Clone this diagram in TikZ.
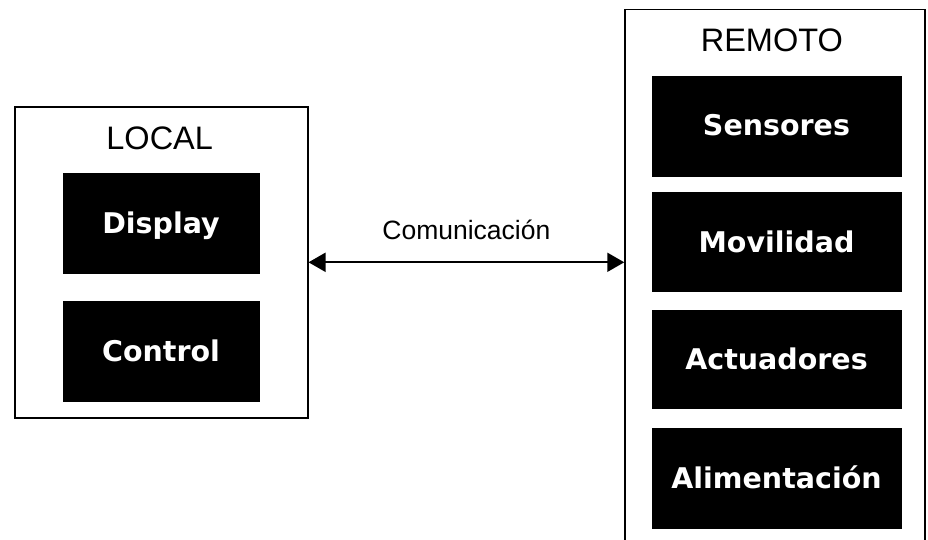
\documentclass[tikz,border=0pt]{standalone}
\usepackage{fontspec}
\setmainfont{Liberation Sans}
\newfontfamily\blockfont{DejaVu Sans}
\usetikzlibrary{arrows.meta}
\begin{document}
\begin{tikzpicture}[x=1pt,y=-1pt,
  group/.style={draw=black,line width=1.5pt,fill=white,rectangle,inner sep=0pt},
  unit/.style={fill=black,draw=black,rectangle,inner sep=0pt,
    minimum width=196pt,minimum height=100pt,text=white,
    font=\blockfont\bfseries\fontsize{28.5}{30}\selectfont,
    text height=20pt,text depth=0pt},
  title/.style={font=\fontsize{32.5}{34}\selectfont,anchor=base,inner sep=0pt},
  link/.style={line width=2pt,{Triangle[length=17pt,width=19pt]}-{Triangle[length=17pt,width=19pt]}}
]
\useasboundingbox (0,0) rectangle (928,540);
\fill[white] (0,0) rectangle (928,540);

% local side
\node[group,minimum width=293pt,minimum height=311pt] (local) at (161.3,262.3) {};
\node[title] (localtitle) at (159.7,150) {LOCAL};
\node[unit] (display) at (161,223.5) {Display};
\node[unit] (control) at (161,351) {Control};

% remote side
\node[group,minimum width=300pt,minimum height=560pt] (remoto) at (775,289.3) {};
\node[title] (remototitle) at (771.8,52) {REMOTO};
\node[unit,minimum width=249pt,minimum height=100pt] (sensores) at (776.5,126) {Sensores};
\node[unit,minimum width=249pt,minimum height=99pt] (movilidad) at (776.5,242) {Movilidad};
\node[unit,minimum width=249pt,minimum height=98pt] (actuadores) at (776.5,359.5) {Actuadores};
\node[unit,minimum width=249pt,minimum height=100pt] (alimentacion) at (776.5,478) {Alimentación};

% link between the two sides
\draw[link] (local.east) -- (local.east -| remoto.west)
  node[midway,above=22pt,font=\fontsize{26.5}{28}\selectfont,inner sep=0pt] (comlabel) {Comunicación};
\end{tikzpicture}
\end{document}
